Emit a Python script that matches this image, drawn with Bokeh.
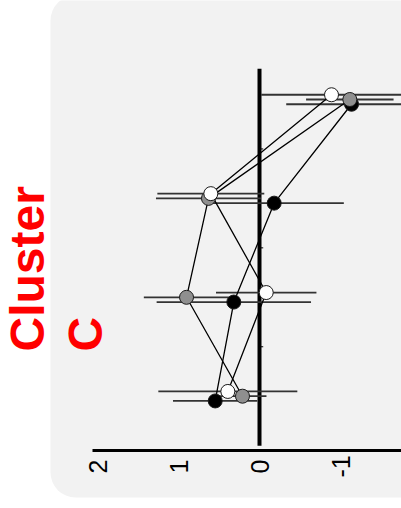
import math
from bokeh.plotting import figure
from bokeh.models import Range1d
from bokeh.core.properties import value
from bokeh.embed import file_html
from bokeh.resources import INLINE

# ---- data ----
groups = [1, 2, 3, 4]
black_vals = [-1.136, -0.181, 0.317, 0.547]
black_err = [0.806, 0.86, 0.953, 0.521]
gray_vals = [-1.115, 0.630, 0.901, 0.210]
gray_err = [0.54, 0.648, 0.527, 0.296]
white_vals = [-0.889, 0.601, -0.083, 0.391]
white_err = [0.868, 0.66, 0.62, 0.858]
xticks = [2, 1, 0, -1]
xtick_labels = ["2", "1", "0", "-1"]
cat_ticks = [1.5, 2.5, 3.5]
title_lines = ["Cluster", "C"]

# ---- layout constants (page pixels) ----
W, H = 401, 508
X0_PX, X_SCALE = 259.0, 81.0      # value 0 position, px per unit
Y1_PX, Y_STEP = 99.0, 98.9        # group 1 position, px per group


def xpx(px):
    return (X0_PX - px) / X_SCALE


def ypx(py):
    return 1 + (py - Y1_PX) / Y_STEP


series = [
    ("black", black_vals, black_err, "#000000", 0.048),
    ("gray", gray_vals, gray_err, "#8f8f8f", 0.0),
    ("white", white_vals, white_err, "#ffffff", -0.048),
]

p = figure(width=W, height=H, output_backend="svg", toolbar_location=None,
           title=None, x_axis_type=None, y_axis_type=None,
           x_range=Range1d(xpx(0), xpx(W)), y_range=Range1d(ypx(H), ypx(0)),
           min_border=0, min_border_left=0, min_border_right=0,
           min_border_top=0, min_border_bottom=0)
p.background_fill_color = "white"
p.border_fill_color = "white"
p.outline_line_color = None
p.grid.visible = False

# rounded panel background
bg_kw = dict(left=xpx(50), right=xpx(450), top=ypx(-5), bottom=ypx(497),
             fill_color="#f2f2f2", line_color=None)
try:
    p.quad(border_radius=25, **bg_kw)
except Exception:
    p.quad(**bg_kw)

# value axis (line + rotated tick labels)
p.segment(x0=[xpx(92)], x1=[xpx(W + 10)], y0=[ypx(450)], y1=[ypx(450)],
          line_width=3, line_color="black")
p.text(x=xticks, y=[ypx(466)] * len(xticks), text=xtick_labels,
       angle=math.pi / 2, text_font=value("Liberation Sans"),
       text_font_size="25px", text_color="black",
       text_align="center", text_baseline="middle")

# zero reference line with category ticks
p.segment(x0=[0], x1=[0], y0=[0.69], y1=[4.5], line_width=4, line_color="black")
p.segment(x0=[0] * len(cat_ticks), x1=[-0.046] * len(cat_ticks),
          y0=cat_ticks, y1=cat_ticks, line_width=1, line_color="black")

# error bars
for name, vals, errs, col, off in series:
    ys = [g + off for g in groups]
    p.segment(x0=[v - e for v, e in zip(vals, errs)],
              x1=[v + e for v, e in zip(vals, errs)],
              y0=ys, y1=ys, line_width=1.8, line_color="#333333")

# connecting lines
for name, vals, errs, col, off in series:
    ys = [g + off for g in groups]
    p.line(vals, ys, line_width=1.3, line_color="black")

# points
for name, vals, errs, col, off in series:
    ys = [g + off for g in groups]
    p.scatter(vals, ys, size=14, fill_color=col, line_color="#1a1a1a", line_width=1)

# title (two lines, rotated)
p.text(x=[xpx(27), xpx(85)], y=[ypx(351)] * 2, text=title_lines,
       angle=math.pi / 2, text_font=value("Liberation Sans"),
       text_font_style="bold", text_font_size="48px", text_color="#ff0000",
       text_align="left", text_baseline="alphabetic")

open("out.html", "w").write(file_html(p, INLINE))
